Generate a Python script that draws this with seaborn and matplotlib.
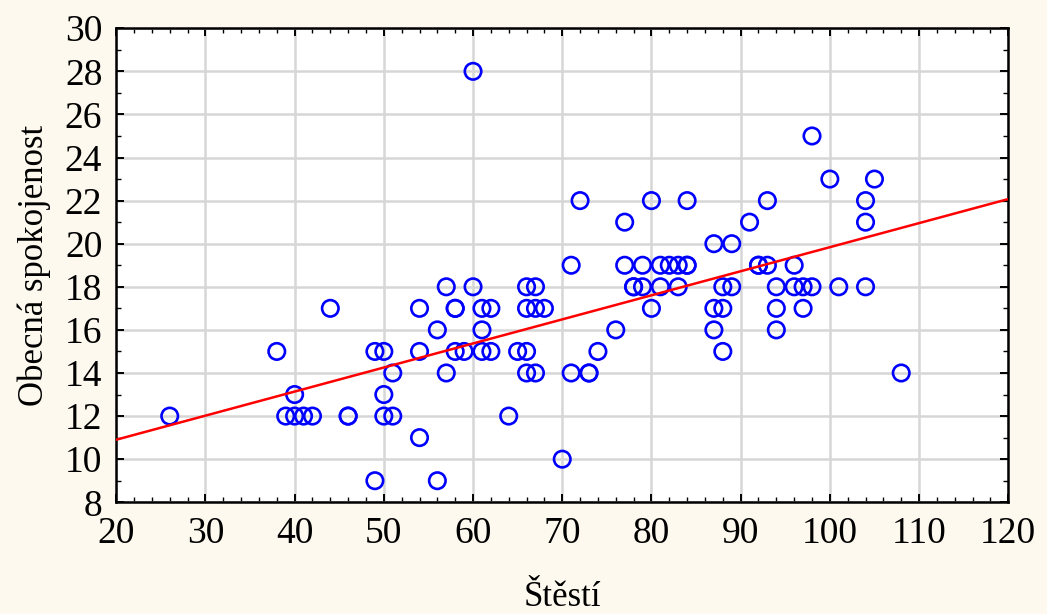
import matplotlib
matplotlib.use("Agg")
import matplotlib.pyplot as plt
from matplotlib.ticker import MultipleLocator
import seaborn as sns
import pandas as pd

stesti = [26, 38, 39, 40, 40, 41, 42, 44, 46, 46, 49, 49, 50, 50, 50, 51, 51,
          54, 54, 54, 56, 56, 57, 57, 58, 58, 58, 59, 60, 60, 61, 61, 61, 62, 62,
          64, 65, 66, 66, 66, 66, 67, 67, 67, 68, 70, 71, 71, 72, 73, 73, 74, 76,
          77, 77, 78, 78, 79, 79, 80, 80, 81, 81, 82, 83, 83, 84, 84, 84, 87, 87,
          87, 88, 88, 88, 89, 89, 91, 92, 92, 93, 93, 94, 94, 94, 96, 96, 97, 97,
          98, 98, 100, 101, 104, 104, 104, 105, 108]
spokojenost = [12, 15, 12, 12, 13, 12, 12, 17, 12, 12, 15, 9, 15, 13, 12, 12, 14,
               17, 15, 11, 16, 9, 18, 14, 17, 17, 15, 15, 28, 18, 17, 16, 15, 17, 15,
               12, 15, 18, 17, 15, 14, 18, 17, 14, 17, 10, 19, 14, 22, 14, 14, 15, 16,
               21, 19, 18, 18, 19, 18, 22, 17, 19, 18, 19, 19, 18, 19, 19, 22, 20, 17,
               16, 18, 17, 15, 20, 18, 21, 19, 19, 19, 22, 18, 17, 16, 19, 18, 18, 17,
               25, 18, 23, 18, 22, 21, 18, 23, 14]

df = pd.DataFrame({"Štěstí": stesti, "Obecná spokojenost": spokojenost})

sns.set_style("white")
plt.rcParams["font.family"] = ["Liberation Serif", "DejaVu Serif"]
plt.rcParams["text.color"] = "black"
plt.rcParams["axes.labelcolor"] = "black"
plt.rcParams["xtick.color"] = "black"
plt.rcParams["ytick.color"] = "black"

bg = "#fdf9ee"
fig = plt.figure(figsize=(10.47, 6.14), dpi=100, facecolor=bg)
ax = fig.add_axes([0.111, 0.182, 0.852, 0.772])
ax.set_facecolor("white")

ax.set_xlim(20, 120)
ax.set_ylim(8, 30)

sns.scatterplot(data=df, x="Štěstí", y="Obecná spokojenost", ax=ax,
                marker="o", s=140, facecolor="none", edgecolor="#0000ff",
                linewidth=1.9, zorder=3)
sns.regplot(data=df, x="Štěstí", y="Obecná spokojenost", ax=ax, scatter=False,
            ci=None, truncate=False, line_kws={"color": "#ff0000", "lw": 1.8, "zorder": 4})

ax.set_xlim(20, 120)
ax.set_ylim(8, 30)
ax.xaxis.set_major_locator(MultipleLocator(10))
ax.xaxis.set_minor_locator(MultipleLocator(2))
ax.yaxis.set_major_locator(MultipleLocator(2))
ax.yaxis.set_minor_locator(MultipleLocator(1))

ax.grid(True, which="major", color="#d6d6d6", lw=1.8, zorder=0)
ax.set_axisbelow(True)

for sp in ax.spines.values():
    sp.set_visible(True)
    sp.set_color("black")
    sp.set_linewidth(1.8)

ax.tick_params(which="both", direction="in", top=True, right=True,
               bottom=True, left=True, color="black", labelcolor="black")
ax.tick_params(which="major", length=6, width=1.4, labelsize=27, pad=10)
ax.tick_params(which="minor", length=3.5, width=1.0)

ax.set_xlabel("Štěstí", fontsize=25, labelpad=22)
ax.set_ylabel("Obecná spokojenost", fontsize=25, labelpad=10)

fig.savefig("out.png", dpi=100, facecolor=bg)
